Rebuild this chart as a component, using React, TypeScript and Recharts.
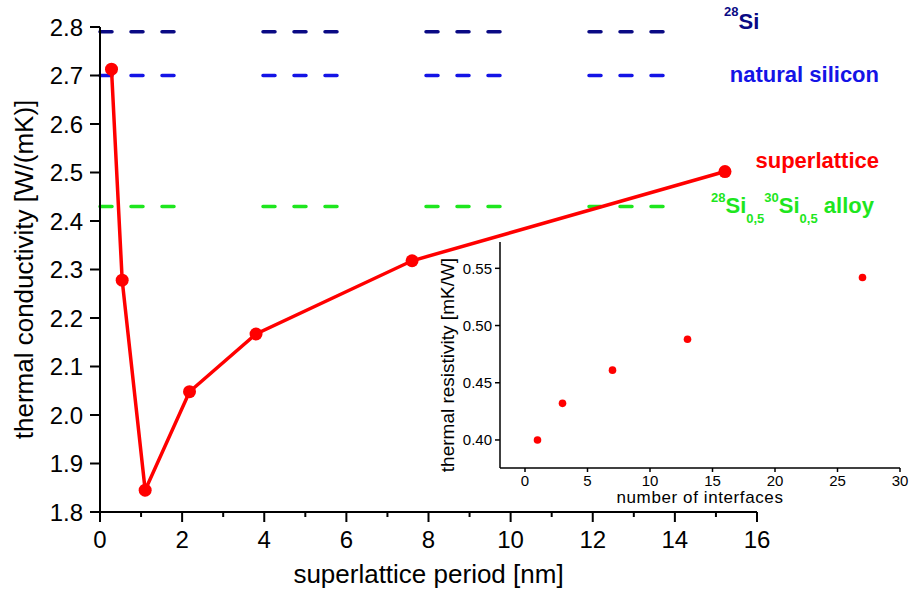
import { LineChart, Line, XAxis, YAxis, ReferenceLine, ScatterChart, Scatter, Label } from 'recharts'

// superlattice thermal conductivity vs period
const periods = [0.28, 0.54, 1.1, 2.18, 3.8, 7.6, 15.22]
const conductivity = [2.713, 2.278, 1.845, 2.048, 2.167, 2.318, 2.502]

const periodTicks = [0, 1, 2, 3, 4, 5, 6, 7, 8, 9, 10, 11, 12, 13, 14, 15, 16]
const conductivityTicks = [1.8, 1.9, 2.0, 2.1, 2.2, 2.3, 2.4, 2.5, 2.6, 2.7, 2.8]

// horizontal reference levels: 28Si, natural silicon, 28Si/30Si alloy
const refValues = [2.79, 2.7, 2.43]
const refColors = ['#0a0a84', '#1414e6', '#1ee61e']
const refEnd = 14

// inset: resistivity vs number of interfaces
const interfaces = [1, 3, 7, 13, 27]
const resistivity = [0.4, 0.432, 0.461, 0.488, 0.542]
const interfaceTicks = [0, 5, 10, 15, 20, 25, 30]
const resistivityTicks = [0.4, 0.45, 0.5, 0.55]

const mainRows = periods.map((p, i) => ({ period: p, k: conductivity[i] }))
const insetRows = interfaces.map((n, i) => ({ n, r: resistivity[i] }))

const font = '"Liberation Sans", Arial, sans-serif'

function PeriodTick({ x, y, payload }: any) {
  const major = payload.value % 2 === 0
  return (
    <g>
      <line x1={x} x2={x} y1={y} y2={y + (major ? 10 : 5)} stroke="#000" strokeWidth={2} />
      {major && (
        <text x={x} y={y + 36} textAnchor="middle" fontSize={24} fill="#000">
          {payload.value}
        </text>
      )}
    </g>
  )
}

function InsetYTitle({ viewBox }: any) {
  const vb = viewBox ?? { x: 0, y: 12, width: 100, height: 226 }
  const cx = vb.x + 47
  const cy = vb.y + vb.height / 2 + 10
  return (
    <text x={cx} y={cy} dy="0.35em" transform={`rotate(-90 ${cx} ${cy})`} textAnchor="middle" fontSize={19} fill="#000">
      thermal resistivity [mK/W]
    </text>
  )
}

export default function App() {
  return (
    <div style={{ position: 'absolute', left: 0, top: 0, width: 910, height: 601, background: '#fff', fontFamily: font }}>
      <LineChart width={910} height={601} data={mainRows} margin={{ top: 27, right: 153, left: 0, bottom: 0 }}>
        <XAxis
          dataKey="period"
          type="number"
          domain={[0, 16]}
          ticks={periodTicks}
          interval={0}
          height={89}
          tickSize={0}
          tickMargin={0}
          tickLine={false}
          tick={<PeriodTick />}
          axisLine={{ stroke: '#000', strokeWidth: 2 }}
        >
          <Label value="superlattice period [nm]" position="insideBottom" offset={18} fontSize={26} fill="#000" />
        </XAxis>
        <YAxis
          type="number"
          domain={[1.8, 2.8]}
          ticks={conductivityTicks}
          interval={0}
          width={100}
          tickSize={10}
          tickMargin={7}
          tickFormatter={(v: number) => v.toFixed(1)}
          tick={{ fontSize: 24, fill: '#000' }}
          tickLine={{ stroke: '#000', strokeWidth: 2 }}
          axisLine={{ stroke: '#000', strokeWidth: 2 }}
        >
          <Label
            value="thermal conductivity [W/(mK)]"
            angle={-90}
            position="insideLeft"
            offset={24}
            fontSize={26}
            fill="#000"
            style={{ textAnchor: 'middle' }}
          />
        </YAxis>
        {refValues.map((v, i) => (
          <ReferenceLine
            key={i}
            segment={[{ x: 0, y: v }, { x: refEnd, y: v }]}
            stroke={refColors[i]}
            strokeWidth={3.5}
            strokeDasharray="12 19 12 19 12 89"
            strokeLinecap="round"
          />
        ))}
        <Line
          type="linear"
          dataKey="k"
          stroke="#ff0000"
          strokeWidth={3.5}
          dot={{ r: 6.5, fill: '#ff0000', stroke: 'none' }}
          activeDot={false}
          isAnimationActive={false}
        />
      </LineChart>

      <svg width={910} height={601} style={{ position: 'absolute', left: 0, top: 0, pointerEvents: 'none' }}>
        <text x={724} y={29} fill={refColors[0]} fontWeight="bold" fontSize={22}>
          <tspan fontSize={13} dy={-13}>28</tspan>
          <tspan dy={13}>Si</tspan>
        </text>
        <text x={879} y={82} textAnchor="end" fill={refColors[1]} fontWeight="bold" fontSize={22}>
          natural silicon
        </text>
        <text x={879} y={168} textAnchor="end" fill="#ff0000" fontWeight="bold" fontSize={22}>
          superlattice
        </text>
        <text x={711} y={213} fill={refColors[2]} fontWeight="bold" fontSize={22}>
          <tspan fontSize={13} dy={-11}>28</tspan>
          <tspan dy={11}>Si</tspan>
          <tspan fontSize={13} dy={10}>0,5</tspan>
          <tspan fontSize={13} dy={-21}>30</tspan>
          <tspan dy={11}>Si</tspan>
          <tspan fontSize={13} dy={10}>0,5</tspan>
          <tspan dy={-10}> alloy</tspan>
        </text>
      </svg>

      <div style={{ position: 'absolute', left: 400, top: 230 }}>
        <ScatterChart width={510} height={280} margin={{ top: 12, right: 10, left: 0, bottom: 0 }}>
          <XAxis
            dataKey="n"
            type="number"
            domain={[-2, 30]}
            ticks={interfaceTicks}
            interval={0}
            height={42}
            tickSize={4}
            tickMargin={3}
            tick={{ fontSize: 15, fill: '#000' }}
            tickLine={{ stroke: '#000', strokeWidth: 1.5 }}
            axisLine={{ stroke: '#000', strokeWidth: 1.5 }}
          >
            <Label
              value="number of interfaces"
              position="insideBottom"
              offset={7}
              fontSize={17}
              fill="#000"
              style={{ letterSpacing: 0.6 }}
            />
          </XAxis>
          <YAxis
            dataKey="r"
            type="number"
            domain={[0.3755, 0.573]}
            ticks={resistivityTicks}
            interval={0}
            width={100}
            tickSize={5}
            tickMargin={3}
            tickFormatter={(v: number) => v.toFixed(2)}
            tick={{ fontSize: 15, fill: '#000' }}
            tickLine={{ stroke: '#000', strokeWidth: 1.5 }}
            axisLine={{ stroke: '#000', strokeWidth: 1.5 }}
          >
            <Label content={<InsetYTitle />} />
          </YAxis>
          <Scatter
            data={insetRows}
            fill="#ff0000"
            isAnimationActive={false}
            shape={(p: any) => <circle cx={p.cx} cy={p.cy} r={3.8} fill="#ff0000" />}
          />
        </ScatterChart>
      </div>
    </div>
  )
}
